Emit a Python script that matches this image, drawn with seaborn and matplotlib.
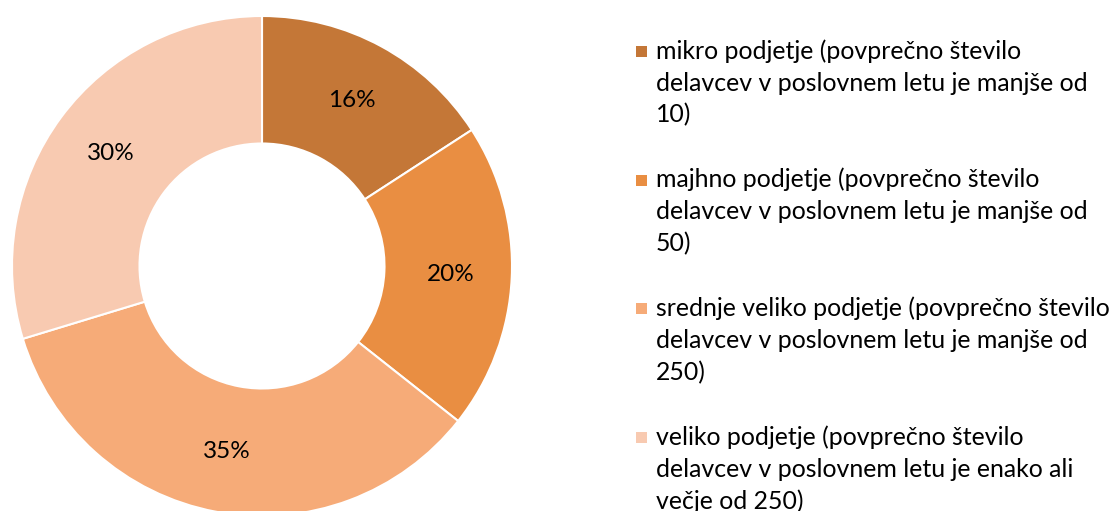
import matplotlib.pyplot as plt
import seaborn as sns

# podatki
values = [16, 20, 35, 30]
pct_labels = ['16%', '20%', '35%', '30%']
legend_lines = [
    ['mikro podjetje (povprečno število', 'delavcev v poslovnem letu je manjše od', '10)'],
    ['majhno podjetje (povprečno število', 'delavcev v poslovnem letu je manjše od', '50)'],
    ['srednje veliko podjetje (povprečno število', 'delavcev v poslovnem letu je manjše od', '250)'],
    ['veliko podjetje (povprečno število', 'delavcev v poslovnem letu je enako ali', 'večje od 250)'],
]
colors = ['#C47737', '#E98E42', '#F6AB78', '#F8CAB1']

sns.set_theme(style='white')
plt.rcParams['font.family'] = ['Lato', 'DejaVu Sans']

W, H = 1117, 511
fig = plt.figure(figsize=(W / 100, H / 100), dpi=100)

# krog: sredina (262, 266) px, polmer 250 px
cx, cy, r = 262, 266, 250
ax = fig.add_axes([(cx - r) / W, (H - cy - r) / H, 2 * r / W, 2 * r / H])
wedges, _, autotexts = ax.pie(
    values, colors=colors, startangle=90, counterclock=False,
    autopct=lambda p: '', pctdistance=0.755,
    wedgeprops=dict(width=0.51, edgecolor='white', linewidth=1.5))
for t, lab in zip(autotexts, pct_labels):
    t.set_text(lab)
    t.set_fontsize(17.5)
    t.set_color('black')
ax.set_xlim(-1, 1)
ax.set_ylim(-1, 1)
ax.set_aspect('equal')
ax.axis('off')

# legenda
x_box, x_text = 636, 656
y0, line_h, entry_h = 51, 32, 128.7
for i, lines in enumerate(legend_lines):
    y = y0 + i * entry_h
    fig.patches.append(plt.Rectangle((x_box / W, (H - y - 6) / H), 11 / W, 11 / H,
                                     transform=fig.transFigure, facecolor=colors[i],
                                     edgecolor='none'))
    for j, line in enumerate(lines):
        fig.text(x_text / W, (H - y - j * line_h) / H, line, fontsize=17.9,
                 va='center', ha='left', color='black')

plt.savefig('out.png', dpi=100)
